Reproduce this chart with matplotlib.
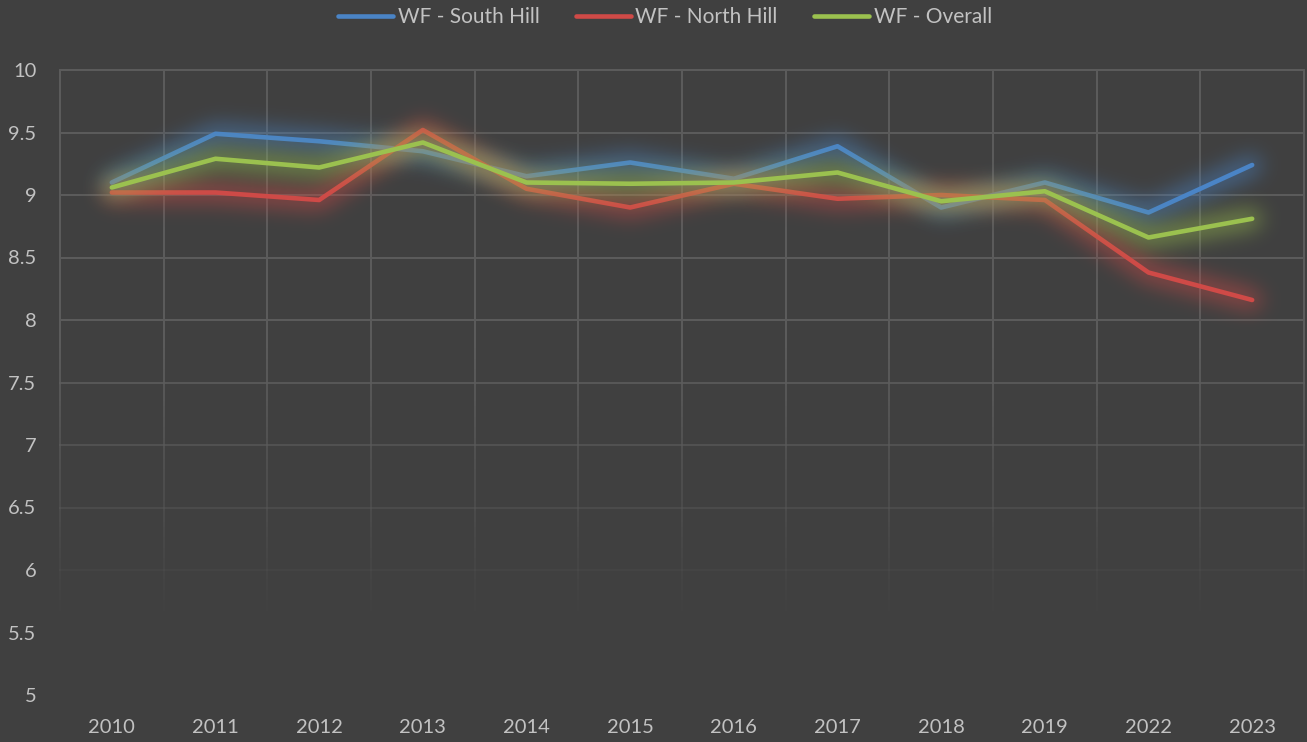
import numpy as np
import matplotlib
matplotlib.use('Agg')
import matplotlib.pyplot as plt
from matplotlib.collections import LineCollection
from matplotlib.colors import to_rgba

plt.rcParams['font.family'] = ['Lato', 'DejaVu Sans']

# 数据
years = ['2010', '2011', '2012', '2013', '2014', '2015', '2016', '2017',
         '2018', '2019', '2022', '2023']
south_hill = [9.10, 9.49, 9.43, 9.35, 9.15, 9.26, 9.13, 9.39, 8.90, 9.10, 8.86, 9.24]
north_hill = [9.02, 9.02, 8.96, 9.52, 9.05, 8.90, 9.09, 8.97, 9.00, 8.96, 8.38, 8.16]
overall = [9.06, 9.29, 9.22, 9.42, 9.10, 9.09, 9.10, 9.18, 8.95, 9.03, 8.66, 8.81]

series = [
    ('WF - South Hill', south_hill, '#4a84c6'),
    ('WF - North Hill', north_hill, '#cf4a47'),
    ('WF - Overall', overall, '#9bc14f'),
]

BG = '#404040'
GRID = '#5c5c5c'
TEXT = '#c2c2c2'


class GlowFilter:
    """把线条的 alpha 做高斯模糊，形成外发光"""
    def __init__(self, color, sigma, strength=1.0):
        self.rgb = np.array(to_rgba(color)[:3])
        self.sigma = sigma
        self.strength = strength

    def __call__(self, im, dpi):
        s = self.sigma * dpi / 72.0
        r = int(3 * s) + 1
        a = np.pad(im[:, :, 3], ((r, r), (r, r)))
        k = np.exp(-0.5 * (np.arange(-r, r + 1) / s) ** 2)
        k /= k.sum()
        H, W = a.shape
        p = np.pad(a, ((r, r), (0, 0)))
        tmp = np.zeros_like(a)
        for i, w in enumerate(k):
            tmp += w * p[i:i + H]
        p = np.pad(tmp, ((0, 0), (r, r)))
        out = np.zeros_like(a)
        for i, w in enumerate(k):
            out += w * p[:, i:i + W]
        res = np.zeros((H, W, 4), dtype=im.dtype)
        res[:, :, :3] = self.rgb
        res[:, :, 3] = np.clip(out * self.strength, 0, 1)
        return res, -r, -r


W, H = 1307, 742
fig = plt.figure(figsize=(W / 100, H / 100), dpi=100, facecolor=BG)
ax = fig.add_axes([60 / W, (H - 695) / H, (1304 - 60) / W, (695 - 70) / H])
ax.set_facecolor(BG)

x = np.arange(len(years))
ax.set_xlim(-0.5, len(years) - 0.5)
ax.set_ylim(5, 10)


# 渐隐网格线：上部清晰，往下逐渐消失
def grid_alpha(v):
    return np.clip((v - 5.6) / (7.8 - 5.6), 0, 1)

gc = np.array(to_rgba(GRID))
ys = np.linspace(5, 10, 120)
for xb in np.arange(-0.5, len(years), 1.0):
    segs = [[(xb, ys[i]), (xb, ys[i + 1])] for i in range(len(ys) - 1)]
    cols = [(*gc[:3], grid_alpha((ys[i] + ys[i + 1]) / 2)) for i in range(len(ys) - 1)]
    lc = LineCollection(segs, colors=cols, linewidths=1.4, zorder=1, clip_on=False)
    ax.add_collection(lc)
for yv in np.arange(5.5, 10.01, 0.5):
    ax.plot([-0.5, len(years) - 0.5], [yv, yv], color=GRID, lw=1.4,
            alpha=float(grid_alpha(yv)), zorder=1, clip_on=False)

handles = []
for i, (name, vals, c) in enumerate(series):
    glow, = ax.plot(x, vals, color=c, lw=14, alpha=0.6, zorder=2 + 2 * i,
                    solid_capstyle='round', solid_joinstyle='round')
    glow.set_agg_filter(GlowFilter(c, sigma=7.5, strength=0.95))
    glow.set_rasterized(True)
    ln, = ax.plot(x, vals, color=c, lw=3.3, zorder=3 + 2 * i,
                  solid_capstyle='round', solid_joinstyle='round', label=name)
    handles.append(ln)

ax.set_xticks(x)
ax.set_xticklabels(years)
ax.set_yticks(np.arange(5, 10.01, 0.5))
ax.set_yticklabels(['5', '5.5', '6', '6.5', '7', '7.5', '8', '8.5', '9', '9.5', '10'])
ax.tick_params(axis='both', length=0, labelsize=14.5, colors=TEXT)
ax.tick_params(axis='y', pad=17)
ax.tick_params(axis='x', pad=17)
for sp in ax.spines.values():
    sp.set_visible(False)

fig.legend(handles=handles, loc='center', bbox_to_anchor=(665 / W, 1 - 17 / H),
           ncol=3, frameon=False, fontsize=15, labelcolor=TEXT,
           handlelength=2.65, handletextpad=0.2, columnspacing=1.75)

fig.savefig('out.png', dpi=100, facecolor=BG)
